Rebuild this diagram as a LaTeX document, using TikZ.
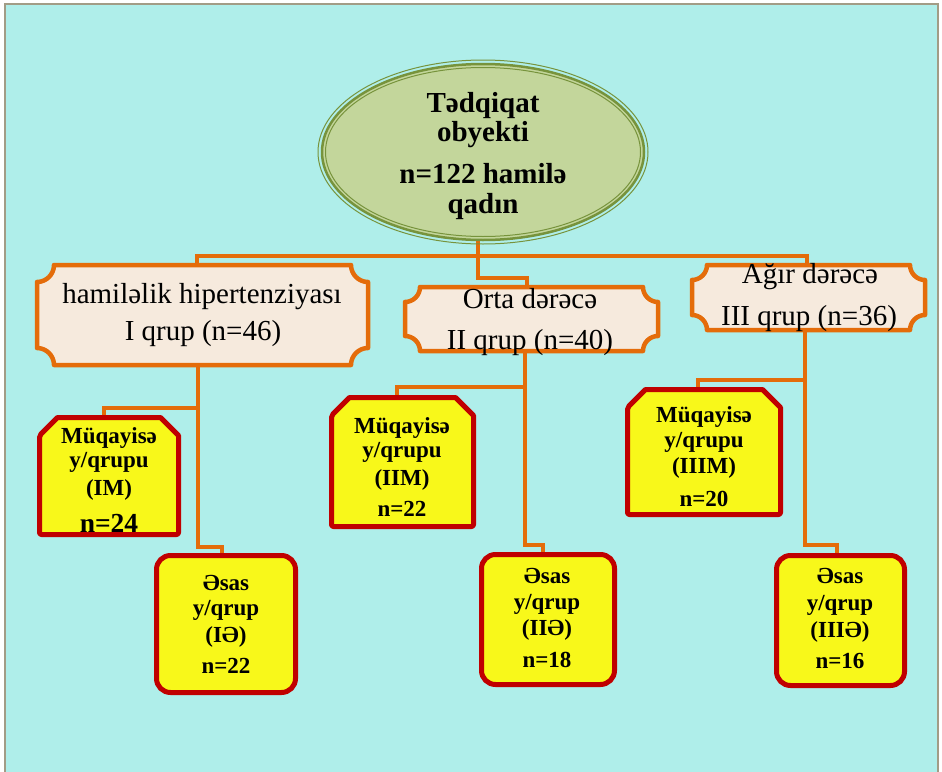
\documentclass[tikz,border=0pt]{standalone}
\usepackage{fontspec}
\setmainfont{Liberation Serif}
\usetikzlibrary{shapes.geometric,calc}
\definecolor{bgc}{HTML}{AFEEEA}
\definecolor{framec}{HTML}{A29C86}
\definecolor{ell}{HTML}{C3D69B}
\definecolor{olv}{HTML}{77933C}
\definecolor{org}{HTML}{E46C0A}
\definecolor{plq}{HTML}{F6EADD}
\definecolor{ylw}{HTML}{F8F81A}
\definecolor{rd}{HTML}{C00000}
\pgfdeclarelayer{back}
\pgfdeclarelayer{links}
\pgfsetlayers{back,links,main}
\newcommand\plaque[2]{%
  \path[draw=org, fill=plq, line width=4.5pt, line join=round]
  let \p1=(#1.north west), \p2=(#1.south east) in
  (\x1+#2,\y1) -- (\x2-#2,\y1)
  .. controls (\x2-#2,\y1-0.55*#2) and (\x2-0.55*#2,\y1-#2) .. (\x2,\y1-#2)
  -- (\x2,\y2+#2)
  .. controls (\x2-0.55*#2,\y2+#2) and (\x2-#2,\y2+0.55*#2) .. (\x2-#2,\y2)
  -- (\x1+#2,\y2)
  .. controls (\x1+#2,\y2+0.55*#2) and (\x1+0.55*#2,\y2+#2) .. (\x1,\y2+#2)
  -- (\x1,\y1-#2)
  .. controls (\x1+0.55*#2,\y1-#2) and (\x1+#2,\y1-0.55*#2) .. (\x1+#2,\y1)
  -- cycle;}
\newcommand\chamf[2]{%
  \path[draw=rd, fill=ylw, line width=5pt, line join=round]
  let \p1=(#1.north west), \p2=(#1.south east) in
  [rounded corners=2pt] (\x1,\y2) -- (\x1,\y1-#2)
  [sharp corners] -- (\x1+#2,\y1) -- (\x2-#2,\y1) -- (\x2,\y1-#2)
  [rounded corners=2pt] -- (\x2,\y2) -- cycle;}
\begin{document}
\begin{tikzpicture}[x=1pt,y=-1pt,
  shell/.style={inner sep=0pt, outer sep=0pt},
  conn/.style={draw=org, line width=4pt},
  mainbox/.style={shell, rectangle, rounded corners=14pt, draw=rd, fill=ylw, line width=5pt},
  ptxt/.style={shell, anchor=base, font=\fontsize{29}{34}\selectfont},
  etxt/.style={shell, anchor=base, font=\fontsize{29}{34}\selectfont\bfseries},
  btxt/.style={shell, anchor=base, font=\fontsize{23}{27}\selectfont\bfseries},
  bigtxt/.style={shell, anchor=base, font=\fontsize{27.5}{30}\selectfont\bfseries}]
\useasboundingbox (0,0) rectangle (942,771);
\begin{pgfonlayer}{back}
\fill[bgc] (5,4) rectangle (938,772);
\draw[framec, line width=1.5pt] (5,772) -- (5,4) -- (938,4) -- (938,772);
\end{pgfonlayer}

% root ellipse
\node[shell, ellipse, fill=ell, draw=olv, line width=2.5pt, minimum width=322pt, minimum height=176pt] (E) at (483,152) {};
\draw[olv, line width=1pt] (E.center) ellipse [x radius=165pt, y radius=92pt];
\draw[olv, line width=1pt] (E.center) ellipse [x radius=157.5pt, y radius=84.5pt];

% plaques
\node[shell, minimum width=331pt, minimum height=100pt] (P1) at (202.5,315) {};
\node[shell, minimum width=253pt, minimum height=64pt] (P2) at (531.5,319) {};
\node[shell, minimum width=233pt, minimum height=65pt] (P3) at (808.5,297.5) {};
\plaque{P1}{17pt}
\plaque{P2}{15pt}
\plaque{P3}{15pt}

% sub boxes
\node[shell, minimum width=139pt, minimum height=117pt] (IM) at (109,476) {};
\node[mainbox, minimum width=139pt, minimum height=137pt] (IA) at (226,624) {};
\node[shell, minimum width=142pt, minimum height=129pt] (IIM) at (402.5,462) {};
\node[mainbox, minimum width=133pt, minimum height=130pt] (IIA) at (548,619.5) {};
\node[shell, minimum width=153pt, minimum height=125pt] (IIIM) at (704,452) {};
\node[mainbox, minimum width=128pt, minimum height=130pt] (IIIA) at (840.5,620.5) {};
\chamf{IM}{18pt}
\chamf{IIM}{18pt}
\chamf{IIIM}{18pt}

% connectors
\begin{pgfonlayer}{links}
\draw[conn] ([xshift=-5pt]E.south) -- ++(0,16) -| ([xshift=-5.5pt]P1.north);
\draw[conn] ([xshift=-5pt]E.south) -- ++(0,16) -| ([xshift=-1.5pt]P3.north);
\draw[conn] ([xshift=-5pt]E.south) -- ++(0,38) -| ([xshift=-4.5pt]P2.north);
\draw[conn] ([xshift=-4.5pt]P1.south) -- ++(0,43) -| ([xshift=-5pt]IM.north);
\draw[conn] ([xshift=-4.5pt]P1.south) -- ++(0,182) -| ([xshift=-4pt]IA.north);
\draw[conn] ([xshift=-6.5pt]P2.south) -- ++(0,36) -| ([xshift=-5.5pt]IIM.north);
\draw[conn] ([xshift=-6.5pt]P2.south) -- ++(0,194) -| ([xshift=-5pt]IIA.north);
\draw[conn] ([xshift=-3.5pt]P3.south) -- ++(0,50) -| ([xshift=-6pt]IIIM.north);
\draw[conn] ([xshift=-3.5pt]P3.south) -- ++(0,215) -| ([xshift=-3.5pt]IIIA.north);
\end{pgfonlayer}

% texts
\node[etxt] (e1) at (483,112) {Tədqiqat};
\node[etxt] (e2) at (483,141) {obyekti};
\node[etxt] (e3) at (483,183) {n=122 hamilə};
\node[etxt] (e4) at (483,213) {qadın};

\node[ptxt] (p1a) at (202,303) {hamiləlik hipertenziyası};
\node[ptxt] (p1b) at (203,340) {I qrup (n=46)};
\node[ptxt] (p2a) at (530,308) {Orta dərəcə};
\node[ptxt] (p2b) at (530,349) {II qrup (n=40)};
\node[ptxt] (p3a) at (810,283) {Ağır dərəcə};
\node[ptxt] (p3b) at (809,325) {III qrup (n=36)};

\node[btxt] (im1) at (109,443) {Müqayisə};
\node[btxt] (im2) at (109,467) {y/qrupu};
\node[btxt] (im3) at (109,495) {(IM)};
\node[bigtxt] (im4) at (109,532) {n=24};

\node[btxt] (ia1) at (226,590) {Əsas};
\node[btxt] (ia2) at (226,615) {y/qrup};
\node[btxt] (ia3) at (226,642) {(IƏ)};
\node[btxt] (ia4) at (226,673) {n=22};

\node[btxt] (iim1) at (402,433) {Müqayisə};
\node[btxt] (iim2) at (402,457) {y/qrupu};
\node[btxt] (iim3) at (402,485) {(IIM)};
\node[btxt] (iim4) at (402,516) {n=22};

\node[btxt] (iia1) at (547,583) {Əsas};
\node[btxt] (iia2) at (547,609) {y/qrup};
\node[btxt] (iia3) at (547,635) {(IIƏ)};
\node[btxt] (iia4) at (547,667) {n=18};

\node[btxt] (iiim1) at (704,422) {Müqayisə};
\node[btxt] (iiim2) at (704,447) {y/qrupu};
\node[btxt] (iiim3) at (704,473) {(IIIM)};
\node[btxt] (iiim4) at (704,506) {n=20};

\node[btxt] (iiia1) at (840,583) {Əsas};
\node[btxt] (iiia2) at (840,610) {y/qrup};
\node[btxt] (iiia3) at (840,637) {(IIIƏ)};
\node[btxt] (iiia4) at (840,668) {n=16};
\end{tikzpicture}
\end{document}
